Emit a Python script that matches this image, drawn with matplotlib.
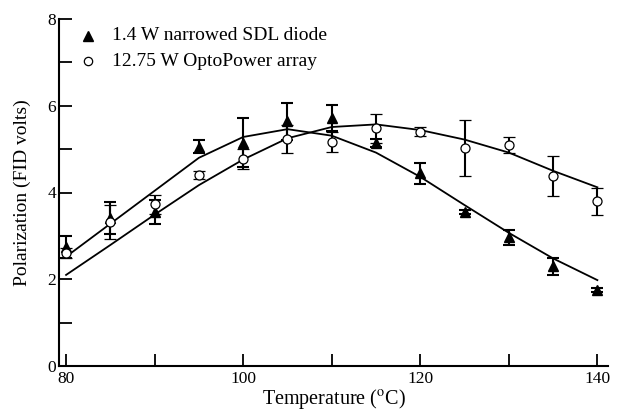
import matplotlib
matplotlib.use("Agg")
import matplotlib.pyplot as plt
from matplotlib.ticker import MultipleLocator

plt.rcParams["font.family"] = ["Liberation Serif", "DejaVu Serif"]
plt.rcParams["mathtext.fontset"] = "stix"

temps = [80, 85, 90, 95, 100, 105, 110, 115, 120, 125, 130, 135, 140]

# 1.4 W narrowed SDL diode
sdl_y = [2.75, 3.42, 3.55, 5.05, 5.15, 5.64, 5.72, 5.14, 4.44, 3.55, 2.97, 2.30, 1.75]
sdl_err = [0.25, 0.37, 0.28, 0.15, 0.56, 0.42, 0.30, 0.10, 0.25, 0.05, 0.17, 0.20, 0.05]
sdl_fit = [2.52, 3.28, 4.04, 4.80, 5.28, 5.46, 5.31, 4.92, 4.36, 3.71, 3.07, 2.48, 1.98]

# 12.75 W OptoPower array
opto_y = [2.60, 3.32, 3.73, 4.40, 4.77, 5.23, 5.16, 5.48, 5.40, 5.02, 5.09, 4.38, 3.80]
opto_err = [0.12, 0.40, 0.22, 0.10, 0.23, 0.33, 0.23, 0.33, 0.10, 0.65, 0.18, 0.45, 0.31]
opto_fit = [2.10, 2.79, 3.49, 4.17, 4.76, 5.25, 5.51, 5.57, 5.44, 5.22, 4.92, 4.50, 4.12]

W, H = 618, 413
fig = plt.figure(figsize=(W / 100, H / 100), dpi=100)
ax = fig.add_axes([59 / W, 47 / H, 549 / W, 347 / H])

ax.plot(temps, sdl_fit, color="black", lw=1.3)
ax.plot(temps, opto_fit, color="black", lw=1.3)
ax.errorbar(temps, sdl_y, yerr=sdl_err, fmt="^", color="black", ms=6.5,
            ecolor="black", elinewidth=1.5, capsize=4, capthick=1.5)
ax.errorbar(temps, opto_y, yerr=opto_err, fmt="o", mfc="white", mec="black",
            ms=6.5, mew=0.9, ecolor="black", elinewidth=1.5, capsize=4,
            capthick=1.5)

# legend drawn by hand (markers + text, no frame), placed in figure pixels
def fig_xy(px, py):
    return px / W, 1 - py / H

fig.lines.append(plt.Line2D(*zip(fig_xy(88, 36)), marker="^", color="black",
                            ms=6.5, transform=fig.transFigure))
fig.lines.append(plt.Line2D(*zip(fig_xy(88, 61)), marker="o", mfc="white",
                            mec="black", ms=6, mew=0.9,
                            transform=fig.transFigure))
fig.text(*fig_xy(112, 36), "1.4 W narrowed SDL diode", fontsize=14,
         va="center", ha="left")
fig.text(*fig_xy(112, 61), "12.75 W OptoPower array", fontsize=14,
         va="center", ha="left")

ax.set_xlim(79.2, 141.2)
ax.set_ylim(0, 8)
ax.spines["top"].set_visible(False)
ax.spines["right"].set_visible(False)
ax.spines["left"].set_linewidth(1.5)
ax.spines["bottom"].set_linewidth(1.5)
ax.xaxis.set_major_locator(MultipleLocator(20))
ax.xaxis.set_minor_locator(MultipleLocator(10))
ax.yaxis.set_major_locator(MultipleLocator(2))
ax.yaxis.set_minor_locator(MultipleLocator(1))
ax.tick_params(which="both", direction="in", length=9, width=1.3,
               labelsize=12.5)
ax.tick_params(axis="y", pad=2)
ax.set_xlabel("Temperature ($^{\\mathrm{o}}$C)", fontsize=14.5, labelpad=0)
ax.set_ylabel("Polarization (FID volts)", fontsize=14, labelpad=12)

fig.savefig("out.png", dpi=100)
